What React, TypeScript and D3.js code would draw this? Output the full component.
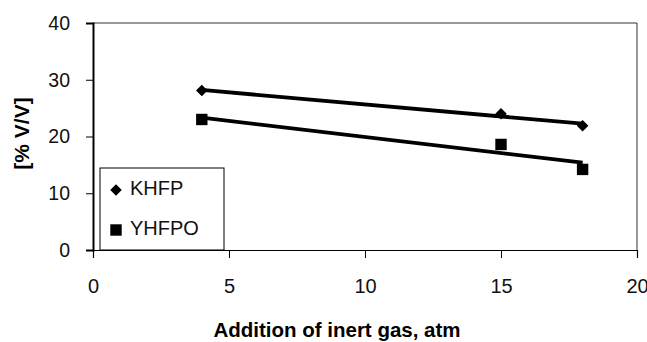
import * as d3 from 'd3';
import React from 'react';

// Data
const pressure = [4, 15, 18];
const khfp = [28.1, 24.0, 21.9];
const yhfpo = [23.0, 18.6, 14.2];
const seriesNames = ['KHFP', 'YHFPO'];
const xTicks = [0, 5, 10, 15, 20];
const yTicks = [0, 10, 20, 30, 40];

const width = 647;
const height = 342;
const margin = { left: 93, right: 10, top: 23, bottom: 92 };

// least squares trendline, like a spreadsheet's linear trend
function trend(xs: number[], ys: number[]) {
    const mx = d3.mean(xs) as number;
    const my = d3.mean(ys) as number;
    let sxy = 0, sxx = 0;
    xs.forEach((x, i) => { sxy += (x - mx) * (ys[i] - my); sxx += (x - mx) ** 2; });
    const slope = sxy / sxx;
    return (x: number) => my + slope * (x - mx);
}

export default function App() {
    const svgRef = React.useRef<SVGSVGElement>(null);

    React.useEffect(() => {
        const svg = d3.select(svgRef.current);
        svg.selectAll('*').remove();

        const x = d3.scaleLinear().domain([0, 20]).range([margin.left, width - margin.right]);
        const y = d3.scaleLinear().domain([0, 40]).range([height - margin.bottom, margin.top]);
        const font = 'Arial, "Liberation Sans", sans-serif';

        // plot frame (top and right thin)
        svg.append('line')
            .attr('x1', x(0)).attr('x2', x(20)).attr('y1', y(40)).attr('y2', y(40))
            .attr('stroke', '#333').attr('stroke-width', 1);
        svg.append('line')
            .attr('x1', x(20)).attr('x2', x(20)).attr('y1', y(40)).attr('y2', y(0))
            .attr('stroke', '#333').attr('stroke-width', 1);

        // y axis
        const yAxis = svg.append('g')
            .attr('transform', `translate(${x(0)},0)`)
            .call(d3.axisLeft(y).tickValues(yTicks).tickSize(7).tickPadding(16).tickFormat(d3.format('d')));
        yAxis.select('.domain').attr('stroke', '#000').attr('stroke-width', 2);
        yAxis.selectAll('text').attr('font-size', 19.5).attr('font-family', font).attr('fill', '#111');

        // x axis
        const xAxis = svg.append('g')
            .attr('transform', `translate(0,${y(0)})`)
            .call(d3.axisBottom(x).tickValues(xTicks).tickSize(8).tickPadding(21).tickFormat(d3.format('d')));
        xAxis.select('.domain').attr('stroke', '#000').attr('stroke-width', 1.2);
        xAxis.selectAll('text').attr('font-size', 20).attr('font-family', font).attr('fill', '#111');

        // trendlines
        [khfp, yhfpo].forEach((vals) => {
            const f = trend(pressure, vals);
            const x0 = d3.min(pressure) as number;
            const x1 = d3.max(pressure) as number;
            svg.append('line')
                .attr('x1', x(x0)).attr('y1', y(f(x0)))
                .attr('x2', x(x1)).attr('y2', y(f(x1)))
                .attr('stroke', '#000').attr('stroke-width', 3.8);
        });

        const diamond = d3.symbol().type(d3.symbolDiamond2).size(85);
        const square = d3.symbol().type(d3.symbolSquare).size(130);

        svg.append('g').selectAll('path')
            .data(pressure)
            .join('path')
            .attr('d', diamond)
            .attr('transform', (d, i) => `translate(${x(d)},${y(khfp[i])})`)
            .attr('fill', '#000');

        svg.append('g').selectAll('path')
            .data(pressure)
            .join('path')
            .attr('d', square)
            .attr('transform', (d, i) => `translate(${x(d)},${y(yhfpo[i])})`)
            .attr('fill', '#000');

        // legend
        const leg = svg.append('g');
        leg.append('rect')
            .attr('x', 100).attr('y', 168).attr('width', 124).attr('height', y(0) - 168)
            .attr('fill', '#fff').attr('stroke', '#000').attr('stroke-width', 1);
        [diamond, square].forEach((sym, i) => {
            const cy = 190 + i * 40;
            leg.append('path').attr('d', sym).attr('transform', `translate(116,${cy})`).attr('fill', '#000');
            leg.append('text')
                .attr('x', 130).attr('y', cy + 5)
                .attr('font-size', 20).attr('font-family', font).attr('fill', '#111')
                .text(seriesNames[i]);
        });

        // axis titles
        svg.append('text')
            .attr('x', 337).attr('y', 337)
            .attr('text-anchor', 'middle')
            .attr('font-size', 20.5).attr('font-weight', 'bold').attr('font-family', font)
            .text('Addition of inert gas, atm');
        svg.append('text')
            .attr('transform', 'translate(29,133.5) rotate(-90)')
            .attr('text-anchor', 'middle')
            .attr('font-size', 21).attr('font-weight', 'bold').attr('font-family', font)
            .text('[% V/V]');
    });

    return (
        <svg ref={svgRef} width={width} height={height}
            style={{ position: 'absolute', left: 0, top: 0, background: '#fff' }} />
    );
}
